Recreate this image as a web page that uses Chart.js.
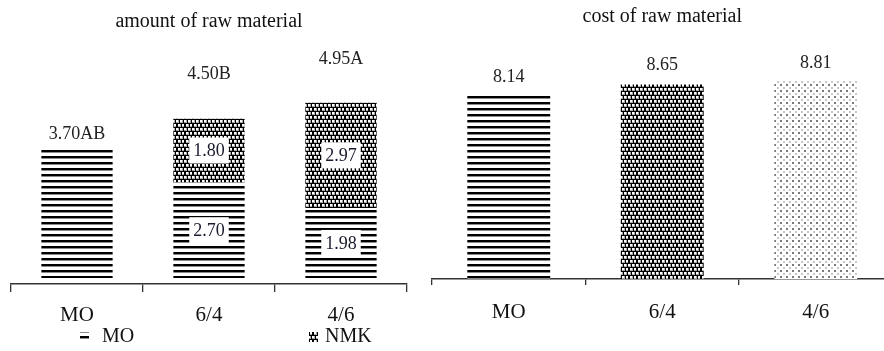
<!DOCTYPE html>
<html>
<head>
<meta charset="utf-8">
<script src="https://cdn.jsdelivr.net/npm/chart.js@4.4.0/dist/chart.umd.min.js"></script>
<style>
  html, body { margin: 0; padding: 0; background: #fff; overflow: hidden; width: 884px; height: 351px; }
  #left { position: absolute; left: 0; top: 0; width: 424px; height: 351px; }
  #right { position: absolute; left: 420px; top: 0; width: 480px; height: 351px; }
</style>
</head>
<body>
<div id="left"><canvas id="amount"></canvas></div>
<div id="right"><canvas id="cost"></canvas></div>
<script>
// data
const categories = ['MO', '6/4', '4/6'];
const seriesNames = ['MO', 'NMK'];
const moAmount = [3.70, 2.70, 1.98];
const nmkAmount = [null, 1.80, 2.97];
const amountTotals = ['3.70AB', '4.50B', '4.95A'];
const costValues = [8.14, 8.65, 8.81];
const costTexts = ['8.14', '8.65', '8.81'];

Chart.defaults.font.family = '"Liberation Serif", "Times New Roman", serif';
Chart.defaults.color = '#111';
Chart.defaults.animation = false;

function makePattern(w, h, draw) {
    const c = document.createElement('canvas');
    c.width = w;
    c.height = h;
    const g = c.getContext('2d');
    draw(g);
    return g.createPattern(c, 'repeat');
}

// fills
const stripes = makePattern(6, 6, g => {
    g.fillStyle = '#fff'; g.fillRect(0, 0, 6, 6);
    g.fillStyle = '#000'; g.fillRect(0, 0, 6, 2);
    g.fillStyle = '#8a8a8a'; g.fillRect(0, 2, 6, 1);
});
const darkDots = makePattern(8, 8, g => {
    g.fillStyle = '#000'; g.fillRect(0, 0, 8, 8);
    [[0, 0], [4, 0], [2, 4], [6, 4]].forEach(([x, y]) => {
        g.fillStyle = '#aaa'; g.fillRect(x, y, 3, 3);
        g.fillStyle = '#fff'; g.fillRect(x, y, 2, 2);
    });
});
const lightDots = makePattern(6, 6, g => {
    g.fillStyle = '#fff'; g.fillRect(0, 0, 6, 6);
    g.fillStyle = '#7a7a7a'; g.fillRect(0, 0, 2, 2);
    g.fillStyle = '#c8c8c8'; g.fillRect(3, 3, 2, 2);
});

// text above each bar (top of stack)
const topText = {
    id: 'topText',
    afterDatasetsDraw(chart, args, opts) {
        const ctx = chart.ctx;
        ctx.save();
        ctx.font = opts.size + 'px ' + Chart.defaults.font.family;
        ctx.fillStyle = '#222';
        ctx.textAlign = 'center';
        ctx.textBaseline = 'middle';
        opts.texts.forEach((t, i) => {
            let top = Infinity, x = 0;
            chart.data.datasets.forEach((ds, d) => {
                if (ds.data[i] == null) return;
                const el = chart.getDatasetMeta(d).data[i];
                if (el.y < top) { top = el.y; x = el.x; }
            });
            ctx.fillText(t, x, top - opts.offsets[i]);
        });
        ctx.restore();
    }
};

// white boxed values inside stacked segments
const segmentText = {
    id: 'segmentText',
    afterDatasetsDraw(chart, args, opts) {
        if (!opts.enabled) return;
        const ctx = chart.ctx;
        ctx.save();
        ctx.font = opts.size + 'px ' + Chart.defaults.font.family;
        ctx.textAlign = 'center';
        ctx.textBaseline = 'middle';
        chart.data.labels.forEach((lab, i) => {
            const parts = chart.data.datasets.filter(ds => ds.data[i] != null);
            if (parts.length < 2) return;
            chart.data.datasets.forEach((ds, d) => {
                const v = ds.data[i];
                if (v == null) return;
                const el = chart.getDatasetMeta(d).data[i];
                const cy = (el.y + el.base) / 2;
                const txt = v.toFixed(2);
                const w = ctx.measureText(txt).width + 8;
                ctx.fillStyle = '#fff';
                ctx.fillRect(el.x - w / 2, cy - 13, w, 26);
                ctx.fillStyle = '#1a1a2e';
                ctx.fillText(txt, el.x, cy + 1);
            });
        });
        ctx.restore();
    }
};

// legend with pattern swatches
const patternLegend = {
    id: 'patternLegend',
    afterDraw(chart, args, opts) {
        if (!opts.enabled) return;
        const ctx = chart.ctx;
        ctx.save();
        ctx.font = opts.size + 'px ' + Chart.defaults.font.family;
        ctx.textBaseline = 'middle';
        ctx.textAlign = 'left';
        chart.data.datasets.forEach((ds, d) => {
            const x = opts.x[d], y = opts.y;
            ctx.fillStyle = ds.backgroundColor;
            ctx.fillRect(x, y - 5, 9, 10);
            ctx.fillStyle = '#111';
            ctx.fillText(ds.label, opts.textX[d], y);
        });
        ctx.restore();
    }
};

// note: chart.js counts ticks.padding twice in the axis height
function xAxis(tickLen, pad) {
    return {
        stacked: true,
        grid: { display: true, offset: true, drawOnChartArea: false, drawTicks: true, tickLength: tickLen, color: '#333', lineWidth: 1.3 },
        border: { display: true, color: '#333', width: 1.5 },
        ticks: { font: { size: 21 }, color: '#111', padding: pad }
    };
}

new Chart(document.getElementById('amount'), {
    type: 'bar',
    data: {
        labels: categories,
        datasets: [
            { label: seriesNames[0], data: moAmount, backgroundColor: stripes, barPercentage: 0.54, categoryPercentage: 1 },
            { label: seriesNames[1], data: nmkAmount, backgroundColor: darkDots, barPercentage: 0.54, categoryPercentage: 1 }
        ]
    },
    options: {
        responsive: true,
        maintainAspectRatio: false,
        layout: { padding: { left: 11, right: 17, top: 0, bottom: 12.2 } },
        plugins: {
            legend: { display: false },
            tooltip: { enabled: false },
            title: { display: true, text: 'amount of raw material', font: { size: 20, weight: 'normal' }, color: '#111', padding: { top: 10, bottom: 16 } },
            topText: { texts: amountTotals, offsets: [13, 44, 43], size: 18 },
            segmentText: { enabled: true, size: 18 },
            patternLegend: { enabled: true, x: [80, 309], textX: [102, 325], y: 337, size: 20 }
        },
        scales: {
            x: xAxis(8, 10.8),
            y: { display: false, stacked: true, min: -0.17, max: 6.44 }
        }
    },
    plugins: [topText, segmentText, patternLegend]
});

new Chart(document.getElementById('cost'), {
    type: 'bar',
    data: {
        labels: categories,
        datasets: [
            { label: 'cost', data: costValues, backgroundColor: [stripes, darkDots, lightDots], barPercentage: 0.54, categoryPercentage: 1 }
        ]
    },
    options: {
        responsive: true,
        maintainAspectRatio: false,
        layout: { padding: { left: 12, right: 7.5, top: 0, bottom: 11.2 } },
        plugins: {
            legend: { display: false },
            tooltip: { enabled: false },
            title: { display: true, text: 'cost of raw material', font: { size: 20, weight: 'normal' }, color: '#111', padding: { top: 5, bottom: 21 } },
            topText: { texts: costTexts, offsets: [19, 19, 18], size: 18 },
            segmentText: { enabled: false },
            patternLegend: { enabled: false }
        },
        scales: {
            x: xAxis(6, 14.8),
            y: { display: false, min: 0, max: 10.18 }
        }
    },
    plugins: [topText, segmentText, patternLegend]
});
</script>
</body>
</html>
